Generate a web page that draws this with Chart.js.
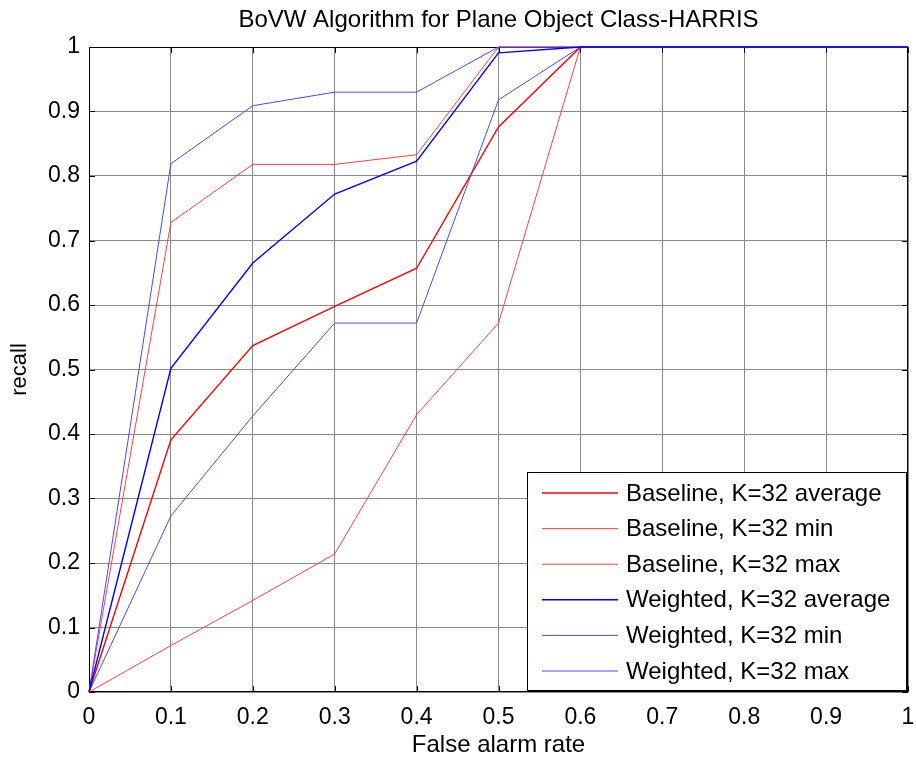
<!DOCTYPE html>
<html lang="en">
<head>
    <meta charset="UTF-8">
    <title>BoVW Algorithm for Plane Object Class-HARRIS</title>
    <script src="https://cdn.jsdelivr.net/npm/chart.js"></script>
    <style>
        html, body { margin: 0; padding: 0; background: #fff; }
        #wrap { width: 916px; height: 762px; }
    </style>
</head>
<body>
    <div id="wrap"><canvas id="chart" width="916" height="762"></canvas></div>

    <script>
        // data
        const falseAlarm  = [0, 0.1, 0.2, 0.3, 0.4, 0.5, 0.6, 0.7, 0.8, 0.9, 1];
        const baselineAvg = [0, 0.391, 0.537, 0.598, 0.657, 0.876, 1, 1, 1, 1, 1];
        const baselineMin = [0, 0.072, 0.142, 0.214, 0.430, 0.572, 1, 1, 1, 1, 1];
        const baselineMax = [0, 0.728, 0.818, 0.818, 0.833, 1, 1, 1, 1, 1, 1];
        const weightedAvg = [0, 0.502, 0.665, 0.772, 0.823, 0.991, 1, 1, 1, 1, 1];
        const weightedMin = [0, 0.273, 0.428, 0.572, 0.572, 0.918, 1, 1, 1, 1, 1];
        const weightedMax = [0, 0.819, 0.909, 0.930, 0.930, 1, 1, 1, 1, 1, 1];
        const tickLabels  = ['0', '0.1', '0.2', '0.3', '0.4', '0.5', '0.6', '0.7', '0.8', '0.9', '1'];

        const FONT = '"Liberation Sans", Arial, Helvetica, sans-serif';

        function pts(ys) {
            return ys.map((y, i) => ({ x: falseAlarm[i], y: y }));
        }

        // black box + inward tick marks, matlab style (drawn under the lines)
        const boxPlugin = {
            id: 'box',
            beforeDatasetsDraw(chart) {
                const { ctx, chartArea: a, scales } = chart;
                ctx.save();
                ctx.strokeStyle = '#000';
                ctx.lineWidth = 1;
                ctx.strokeRect(a.left + 0.5, a.top + 0.5, a.right - a.left - 1, a.bottom - a.top - 1);
                ctx.beginPath();
                scales.x.ticks.forEach(t => {
                    const px = Math.round(scales.x.getPixelForValue(t.value)) + 0.5;
                    ctx.moveTo(px, a.bottom); ctx.lineTo(px, a.bottom - 6);
                    ctx.moveTo(px, a.top); ctx.lineTo(px, a.top + 6);
                });
                scales.y.ticks.forEach(t => {
                    const py = Math.round(scales.y.getPixelForValue(t.value)) + 0.5;
                    ctx.moveTo(a.left, py); ctx.lineTo(a.left + 6, py);
                    ctx.moveTo(a.right, py); ctx.lineTo(a.right - 6, py);
                });
                ctx.stroke();
                ctx.restore();
            }
        };

        // legend box inside the plot, bottom right
        const legendPlugin = {
            id: 'boxLegend',
            afterDraw(chart) {
                const { ctx, chartArea: a } = chart;
                const sets = chart.data.datasets;
                const w = 379, rowH = 35.6, h = 218;
                const x0 = a.right - 2 - w, y0 = a.bottom - 2 - h;
                ctx.save();
                ctx.fillStyle = '#fff';
                ctx.fillRect(x0, y0, w, h);
                ctx.strokeStyle = '#000';
                ctx.lineWidth = 1;
                ctx.strokeRect(x0 + 0.5, y0 + 0.5, w, h);
                ctx.font = '24px ' + FONT;
                ctx.textBaseline = 'middle';
                ctx.fillStyle = '#000';
                sets.forEach((ds, i) => {
                    const cy = y0 + 21 + i * rowH;
                    ctx.beginPath();
                    ctx.strokeStyle = ds.borderColor;
                    ctx.lineWidth = ds.borderWidth;
                    ctx.moveTo(x0 + 15, cy);
                    ctx.lineTo(x0 + 91, cy);
                    ctx.stroke();
                    ctx.fillText(ds.label, x0 + 99, cy + 1);
                });
                ctx.restore();
            }
        };

        const ctx = document.getElementById('chart');

        const chart = new Chart(ctx, {
            type: 'line',
            data: {
                datasets: [
                    { label: 'Baseline, K=32 average', data: pts(baselineAvg), borderColor: '#ff0000', borderWidth: 1.4, order: 2 },
                    { label: 'Baseline, K=32 min', data: pts(baselineMin), borderColor: '#ff4040', borderWidth: 1, order: 2 },
                    { label: 'Baseline, K=32 max', data: pts(baselineMax), borderColor: '#ff4040', borderWidth: 1, order: 2 },
                    { label: 'Weighted, K=32 average', data: pts(weightedAvg), borderColor: '#0000ff', borderWidth: 1.4, order: 1 },
                    { label: 'Weighted, K=32 min', data: pts(weightedMin), borderColor: '#4848ff', borderWidth: 1, order: 1 },
                    { label: 'Weighted, K=32 max', data: pts(weightedMax), borderColor: '#4848ff', borderWidth: 1, order: 1 }
                ]
            },
            options: {
                responsive: false,
                animation: false,
                layout: { padding: { left: 0, right: 8, top: 0, bottom: 0 } },
                elements: {
                    point: { radius: 0 },
                    line: { tension: 0, fill: false }
                },
                datasets: { line: { clip: 4 } },
                plugins: {
                    legend: { display: false },
                    tooltip: { enabled: false },
                    title: {
                        display: true,
                        fullSize: false,
                        text: 'BoVW Algorithm for Plane Object Class-HARRIS',
                        color: '#000',
                        font: { family: FONT, size: 24, weight: 'normal' },
                        padding: { top: 6, bottom: 12.2 }
                    }
                },
                scales: {
                    x: {
                        type: 'linear',
                        min: 0,
                        max: 1,
                        afterFit(scale) {
                            scale.height = 70;
                            scale.paddingLeft = 0;
                            scale.paddingRight = 0;
                        },
                        ticks: {
                            stepSize: 0.1,
                            color: '#000',
                            padding: 12,
                            maxRotation: 0,
                            font: { family: FONT, size: 23 },
                            callback: (v, i) => tickLabels[i]
                        },
                        grid: { color: '#8a8a8a', drawTicks: false },
                        border: { display: false },
                        title: {
                            display: true,
                            text: 'False alarm rate',
                            color: '#000',
                            font: { family: FONT, size: 24 },
                            padding: { top: 0, bottom: 2 }
                        }
                    },
                    y: {
                        min: 0,
                        max: 1,
                        afterFit(scale) { scale.width = 89; },
                        ticks: {
                            stepSize: 0.1,
                            color: '#000',
                            padding: 9,
                            font: { family: FONT, size: 23 },
                            callback: (v, i) => tickLabels[i]
                        },
                        grid: { color: '#8a8a8a', drawTicks: false },
                        border: { display: false },
                        title: {
                            display: true,
                            text: 'recall',
                            color: '#000',
                            font: { family: FONT, size: 22 },
                            padding: { top: 7, bottom: 0 }
                        }
                    }
                }
            },
            plugins: [boxPlugin, legendPlugin]
        });
    </script>
</body>
</html>
